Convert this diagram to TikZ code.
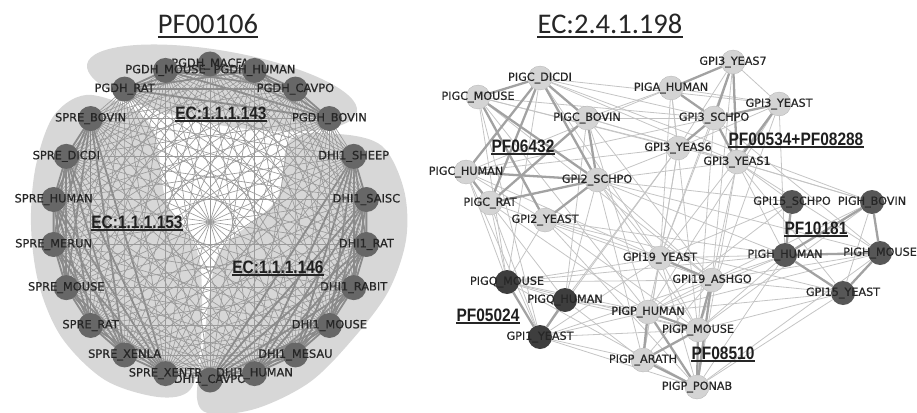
\documentclass[tikz,border=0pt]{standalone}
\usepackage{fontspec}
\newfontfamily\labfont[FakeBold=0.6]{DejaVu Sans}
\newfontfamily\titlefont{Carlito}
\newfontfamily\tagfont[FakeStretch=0.86]{Liberation Sans}
\definecolor{blob}{HTML}{D7D7D7}
\definecolor{ledge}{HTML}{9A9A9A}
\definecolor{lthick}{HTML}{8A8A8A}
\definecolor{lnodec}{HTML}{676767}
\definecolor{rthin}{HTML}{C4C4C4}
\definecolor{rthick}{HTML}{A2A2A2}
\definecolor{lightn}{HTML}{D4D4D4}
\definecolor{darkn}{HTML}{575757}
\definecolor{darkern}{HTML}{3E3E3E}
\definecolor{labtext}{HTML}{262626}
\pgfdeclarelayer{blobs}
\pgfdeclarelayer{edges}
\pgfsetlayers{blobs,edges,main}
\begin{document}
\begin{tikzpicture}[x=1pt,y=-1pt,
  lnode/.style={circle,fill=lnodec,minimum size=25pt,inner sep=0pt},
  lightnode/.style={circle,fill=lightn,draw=lightn!85!black,line width=0.3pt,minimum size=24pt,inner sep=0pt},
  darknode/.style={circle,fill=darkn,minimum size=24pt,inner sep=0pt},
  darkernode/.style={circle,fill=darkern,minimum size=24pt,inner sep=0pt},
  nlab/.style={font=\labfont\fontsize{11.4}{12}\selectfont,text=labtext,inner sep=0pt},
  rlab/.style={font=\labfont\fontsize{11.2}{12}\selectfont,text=labtext,inner sep=0pt},
  leftthin/.style={draw=ledge,line width=0.65pt},
  leftthick/.style={draw=lthick,line width=1.8pt},
  rightthin/.style={draw=rthin,line width=0.8pt},
  rightthick/.style={draw=rthick,line width=2.3pt},
  tag/.style={font=\tagfont\bfseries\fontsize{18}{20}\selectfont,text=black!88,inner xsep=0pt,inner ysep=1.6pt},
  tagline/.style={draw=black!85,line width=1.4pt},
  title/.style={font=\titlefont\fontsize{28.5}{30}\selectfont,text=black!85,inner xsep=0pt,inner ysep=3.5pt},
  titleline/.style={draw=black!85,line width=1.4pt}]
\useasboundingbox (0,0) rectangle (917,412);

% ---------- group hulls behind the left network ----------
\begin{pgfonlayer}{blobs}
  \fill[blob] (222,88) ellipse [x radius=137pt, y radius=37pt, rotate=-10];
  \fill[blob] plot[smooth cycle, tension=0.55] coordinates {
    (92,95) (55,114) (36,165) (31,225) (39,285) (62,338) (105,380)
    (158,397) (190,390) (200,350) (202,292) (196,248) (166,200) (150,124)};
  \fill[blob] plot[smooth cycle, tension=0.55] coordinates {
    (338,134) (382,146) (404,190) (406,240) (388,292) (352,340) (310,382)
    (258,408) (212,414) (197,398) (204,340) (210,292) (222,248) (276,200) (290,140)};
\end{pgfonlayer}

% ---------- left network: 22 proteins on a circle ----------
\foreach \i/\nm in {0/PGDH\_MACFA,1/PGDH\_MOUSE,2/PGDH\_RAT,3/SPRE\_BOVIN,
    4/SPRE\_DICDI,5/SPRE\_HUMAN,6/SPRE\_MERUN,7/SPRE\_MOUSE,8/SPRE\_RAT,
    9/SPRE\_XENLA,11/DHI1\_CAVPO,10/SPRE\_XENTR,12/DHI1\_HUMAN,13/DHI1\_MESAU,
    14/DHI1\_MOUSE,15/DHI1\_RABIT,16/DHI1\_RAT,17/DHI1\_SAISC,18/DHI1\_SHEEP,
    19/PGDH\_BOVIN,20/PGDH\_CAVPO,21/PGDH\_HUMAN}{
  \node[lnode] (L\i) at ({210+158*cos(90+\i*360/22)},{222-158*sin(90+\i*360/22)}) {};
  \node[nlab] (LT\i) at (L\i) {\nm};
}
\begin{pgfonlayer}{edges}
  \foreach \i in {0,...,20}{
    \pgfmathtruncatemacro\js{\i+1}
    \pgfmathtruncatemacro\gi{ifthenelse(\i<3,0,ifthenelse(\i<11,1,ifthenelse(\i<19,2,0)))}
    \foreach \j in {\js,...,21}{
      \pgfmathtruncatemacro\gj{ifthenelse(\j<3,0,ifthenelse(\j<11,1,ifthenelse(\j<19,2,0)))}
      \ifnum\gi=\gj
        \draw[leftthick] (L\i.center) -- (L\j.center);
      \else
        \draw[leftthin] (L\i.center) -- (L\j.center);
      \fi
    }
  }
\end{pgfonlayer}

% ---------- right network ----------
\foreach \n/\x/\y/\s/\t in {
    dicdi/540/78/lightnode/PIGC\_DICDI,
    cmouse/478/97/lightnode/PIGC\_MOUSE,
    piga/671/88/lightnode/PIGA\_HUMAN,
    ysev/733/62/lightnode/GPI3\_YEAS7,
    gtyeast/779/104/lightnode/GPI3\_YEAST,
    cbovin/587/118/lightnode/PIGC\_BOVIN,
    gtschpo/714/118/lightnode/GPI3\_SCHPO,
    ysix/678/148/lightnode/GPI3\_YEAS6,
    yone/737/162/lightnode/GPI3\_YEAS1,
    chuman/466/172/lightnode/PIGC\_HUMAN,
    gbschpo/597/180/lightnode/GPI2\_SCHPO,
    crat/490/203/lightnode/PIGC\_RAT,
    gbyeast/545/220/lightnode/GPI2\_YEAST,
    gfschpo/792/202/darknode/GPI15\_SCHPO,
    hbovin/872/202/darknode/PIGH\_BOVIN,
    hhuman/785/255/darknode/PIGH\_HUMAN,
    hmouse/880/253/darknode/PIGH\_MOUSE,
    gnyeast/660/258/lightnode/GPI19\_YEAST,
    gnashgo/712/280/lightnode/GPI19\_ASHGO,
    qmouse/507/282/darkernode/PIGQ\_MOUSE,
    gfyeast/843/293/darknode/GPI15\_YEAST,
    qhuman/565/300/darkernode/PIGQ\_HUMAN,
    phuman/648/312/lightnode/PIGP\_HUMAN,
    pmouse/698/330/lightnode/PIGP\_MOUSE,
    goyeast/540/337/darkernode/GPI1\_YEAST,
    parath/643/360/lightnode/PIGP\_ARATH,
    pponab/697/387/lightnode/PIGP\_PONAB}{
  \node[\s] (\n) at (\x,\y) {};
  \node[rlab] (\n-t) at (\x,\y) {\t};
}
\begin{pgfonlayer}{edges}
  \foreach \a/\b in {
    dicdi/gtyeast, dicdi/gtschpo, dicdi/yone, dicdi/gnyeast, dicdi/qmouse, dicdi/hbovin,
    cmouse/gtschpo, cmouse/ysix, cmouse/qmouse, cmouse/goyeast, cmouse/gnashgo, cmouse/phuman, cmouse/yone,
    piga/cbovin, piga/ysix, piga/gnyeast, piga/pmouse, piga/gtyeast, piga/chuman,
    ysev/gtyeast, ysev/gnyeast, ysev/gnashgo, ysev/ysix,
    gtyeast/pmouse, gtyeast/phuman, gtyeast/gnyeast, gtyeast/hhuman, gtyeast/ysix,
    cbovin/gtschpo, cbovin/yone, cbovin/gnashgo, cbovin/phuman, cbovin/hbovin, cbovin/qhuman,
    gtschpo/chuman, gtschpo/gnyeast, gtschpo/pmouse, gtschpo/hmouse,
    ysix/gbschpo, ysix/gnyeast, ysix/parath, ysix/qhuman, ysix/goyeast,
    yone/gbschpo, yone/hbovin, yone/hmouse, yone/pponab, yone/gnashgo, yone/hhuman, yone/gfyeast,
    chuman/qmouse, chuman/gbyeast, chuman/goyeast, chuman/ysix, chuman/gnyeast,
    gbschpo/gnyeast, gbschpo/gnashgo, gbschpo/pmouse, gbschpo/hhuman, gbschpo/qhuman, gbschpo/parath, gbschpo/hmouse,
    crat/qmouse, crat/goyeast, crat/phuman, crat/gnashgo, crat/qhuman,
    gbyeast/qmouse, gbyeast/gnyeast, gbyeast/pponab, gbyeast/pmouse, gbyeast/hhuman, gbyeast/gfyeast,
    gfschpo/gnyeast, gfschpo/phuman, gfschpo/yone, gfschpo/gbschpo,
    hbovin/gnashgo, hbovin/gfyeast, hbovin/pmouse,
    hhuman/gnyeast, hhuman/gnashgo, hhuman/phuman, hhuman/pmouse, hhuman/pponab, hhuman/qmouse,
    hmouse/gnashgo, hmouse/pponab, hmouse/phuman,
    gnyeast/qmouse, gnyeast/parath, gnyeast/pmouse, gnyeast/goyeast, gnyeast/phuman, gnyeast/pponab,
    gnashgo/qmouse, gnashgo/goyeast, gnashgo/phuman, gnashgo/parath, gnashgo/gfyeast,
    qmouse/phuman, qmouse/pmouse, qmouse/pponab, qmouse/qhuman,
    gfyeast/pmouse, gfyeast/pponab, gfyeast/phuman,
    qhuman/phuman, qhuman/parath, qhuman/pmouse,
    goyeast/parath, goyeast/pmouse, goyeast/pponab, goyeast/phuman}
    \draw[rightthin] (\a) -- (\b);
  \foreach \a/\b in {
    dicdi/cmouse, dicdi/cbovin, dicdi/crat, dicdi/chuman, dicdi/gbschpo,
    cmouse/gbschpo, cmouse/gbyeast, chuman/gbschpo, crat/gbschpo, chuman/crat,
    cbovin/gbschpo, gbyeast/gbschpo, cbovin/crat,
    piga/ysev, piga/gtschpo, ysev/gtschpo, gtyeast/gtschpo, gtschpo/ysix,
    gtschpo/yone, ysev/yone, gtyeast/yone,
    hbovin/hmouse, hhuman/hmouse, hhuman/hbovin, gfschpo/hhuman, hhuman/gfyeast, gfyeast/hmouse,
    qmouse/goyeast, qhuman/goyeast,
    gnyeast/gnashgo, gnashgo/pponab, gnashgo/pmouse, phuman/parath, phuman/pponab,
    pmouse/parath, pmouse/pponab, parath/pponab, phuman/pmouse}
    \draw[rightthick] (\a) -- (\b);
\end{pgfonlayer}

% ---------- titles ----------
\node[title] (ttl1) at (208,23.5) {PF00106};
\draw[titleline] (ttl1.south west) -- (ttl1.south east);
\node[title] (ttl2) at (610,23.5) {EC:2.4.1.198};
\draw[titleline] (ttl2.south west) -- (ttl2.south east);

% ---------- family labels ----------
\foreach \n/\x/\y/\t in {ecA/221/113/EC:1.1.1.143, ecB/137/222/EC:1.1.1.153,
    ecC/278/267/EC:1.1.1.146, pfA/523/146/PF06432, pfB/796/139/PF00534+PF08288,
    pfC/816/228/PF10181, pfD/488/315/PF05024, pfE/723/353/PF08510}{
  \node[tag] (\n) at (\x,\y) {\t};
  \draw[tagline] (\n.south west) -- (\n.south east);
}
\end{tikzpicture}
\end{document}
